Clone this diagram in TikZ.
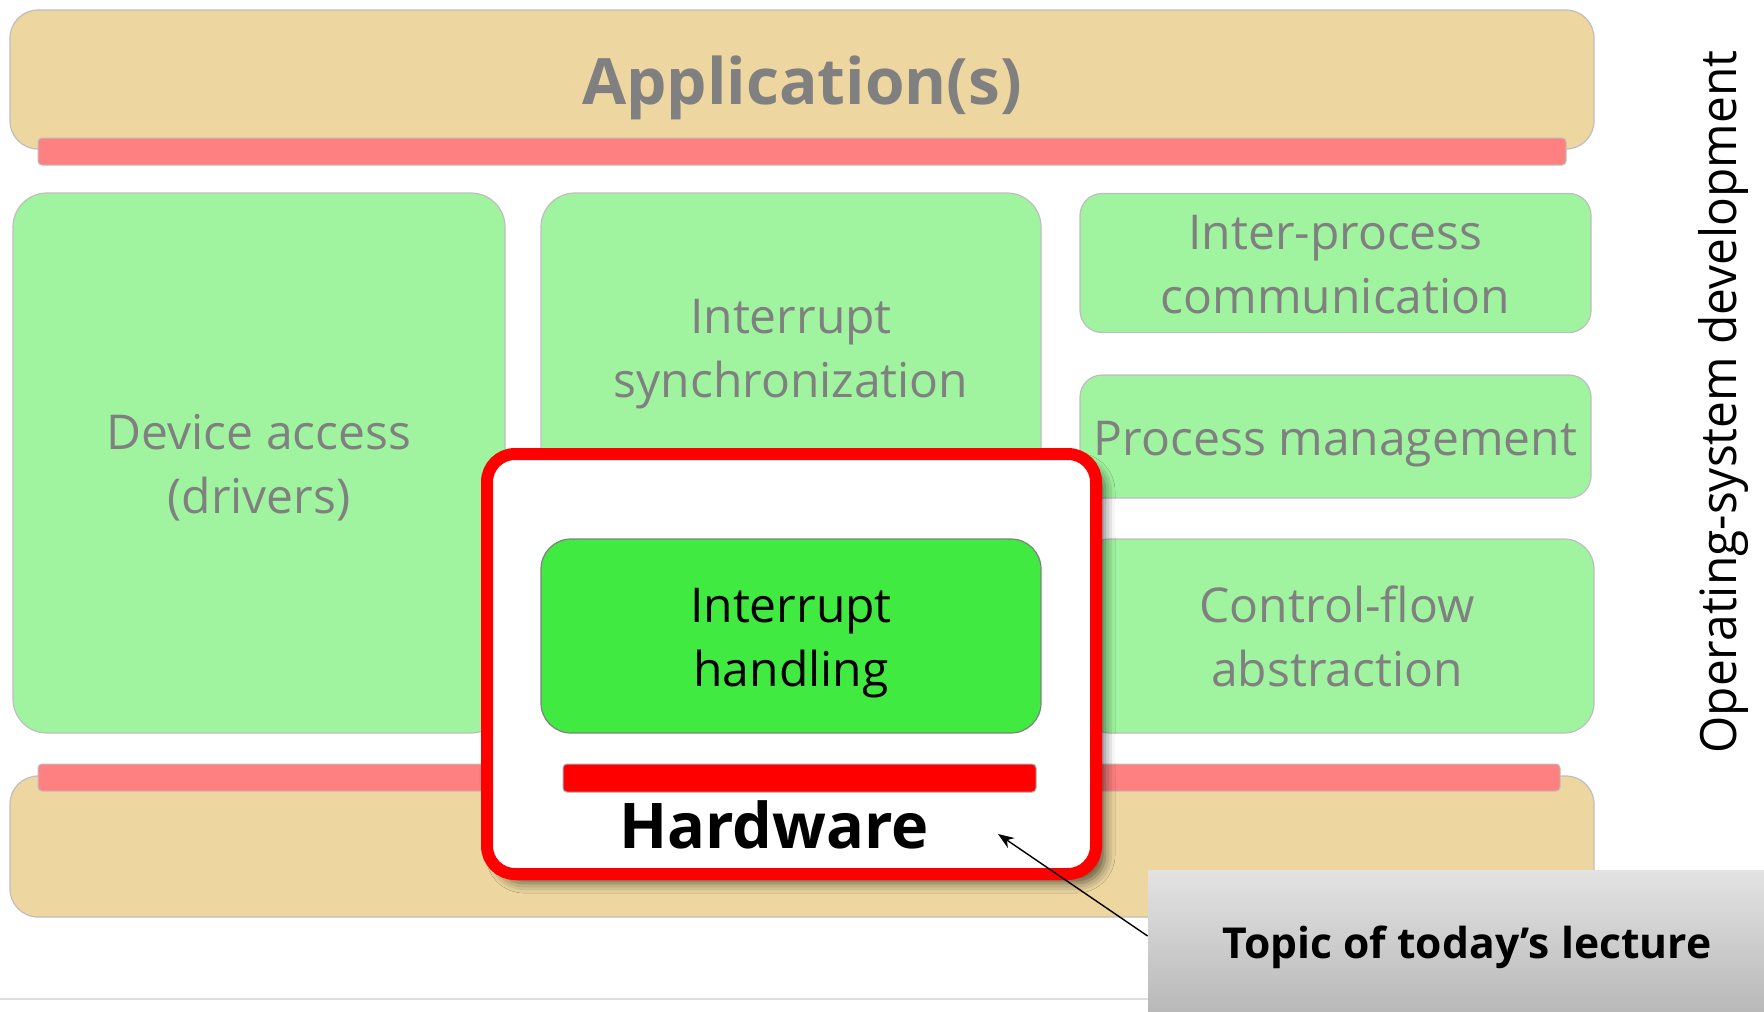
\documentclass[tikz,border=0pt]{standalone}
\usepackage{fontspec}
\setmainfont{Open Sans}
\usetikzlibrary{shadows.blur,arrows.meta}
\definecolor{tan}{RGB}{237,214,160}
\definecolor{barpink}{RGB}{255,128,128}
\definecolor{lightgreen}{RGB}{160,244,160}
\definecolor{brightgreen}{RGB}{64,234,64}
\definecolor{textgray}{RGB}{128,128,128}
\definecolor{bordergray}{RGB}{190,190,190}
\definecolor{hlred}{RGB}{255,0,0}
\tikzset{
  layer/.style={draw=bordergray, line width=0.6pt, fill=tan, rounded corners=14pt, inner sep=0pt},
  bar/.style={draw=bordergray, line width=0.5pt, fill=barpink, rounded corners=2pt, inner sep=0pt},
  comp/.style={draw=bordergray, line width=0.6pt, fill=lightgreen, inner sep=0pt},
  comptext/.style={text=textgray, align=center, inner sep=0pt, font=\fontsize{24}{32}\selectfont},
  topic/.style={draw=none, top color=gray!22, bottom color=gray!55, inner sep=0pt},
}
\begin{document}
\begin{tikzpicture}[x=0.5pt,y=-0.5pt]
\useasboundingbox (0,0) rectangle (1764,1011);
% baseline rule
\coordinate (rl) at (0,999);
\coordinate (rr) at (1150,999);
\draw[gray!25, line width=1pt] (rl) -- (rr);
% application layer
\node[layer, minimum width=792pt, minimum height=69.5pt] (app) at (802,79.5) {};
\node[text=textgray, font=\fontsize{32}{38}\selectfont\bfseries, inner sep=0pt] (apptext) at (802,87.5) {Application(s)};
\node[bar, minimum width=764pt, minimum height=13.5pt] (topbar) at (802,151.5) {};
% components
\node[comp, rounded corners=17pt, minimum width=246pt, minimum height=270pt] (dev) at (259,463) {};
\node[comptext] (devtext) at (259,467.5) {Device access\\(drivers)};
\node[comp, rounded corners=17pt, minimum width=250pt, minimum height=154.5pt] (sync) at (791,347.5) {};
\node[comptext] (synctext) at (791,354) {Interrupt\\synchronization};
\node[comp, rounded corners=11pt, minimum width=255.5pt, minimum height=69.5pt] (ipc) at (1335.5,263) {};
\node[comptext] (ipctext) at (1335.5,265) {Inter-process\\communication};
\node[comp, rounded corners=11pt, minimum width=255.5pt, minimum height=61.5pt] (pm) at (1335.5,436.5) {};
\node[comptext] (pmtext) at (1335.5,444) {Process management};
\node[comp, rounded corners=15pt, minimum width=257pt, minimum height=97pt] (cfa) at (1337,636) {};
\node[comptext] (cfatext) at (1337,636) {Control-flow\\abstraction};
% hardware layer
\node[layer, minimum width=792pt, minimum height=70.5pt] (hw) at (802,846.5) {};
\node[bar, minimum width=761pt, minimum height=13.5pt] (botbar) at (799,777.5) {};
% highlight
\node[draw=hlred, line width=6pt, fill=white, rounded corners=14pt, minimum width=304.5pt,
  minimum height=210pt, inner sep=0pt,
  blur shadow={shadow xshift=4.5pt, shadow yshift=-4.5pt, shadow blur radius=5pt, shadow opacity=60}] (hl) at (791.5,664) {};
\node[comp, fill=brightgreen, draw=gray, rounded corners=15pt, minimum width=250pt, minimum height=97pt] (ih) at (791,636) {};
\node[comptext, text=black] (ihtext) at (791,643) {Interrupt\\handling};
\node[draw=gray!70, line width=0.5pt, fill=hlred, rounded corners=2pt, minimum width=236.5pt, minimum height=14pt, inner sep=0pt] (redbar) at (799.5,778) {};
\node[font=\fontsize{31.5}{36}\selectfont\bfseries, inner sep=0pt] (hwtext) at (774,825) {Hardware};
% side label
\node[rotate=90, font=\fontsize{25}{30}\selectfont, inner sep=0pt] (osdev) at (1723,402) {\scalebox{0.957}[1]{Operating-system development}};
% topic callout
\node[topic, minimum width=308pt, minimum height=70.5pt] (topic) at (1456,940.5) {};
\node[font=\fontsize{21.3}{26}\selectfont\bfseries, inner sep=0pt] (topictext) at (1467,947) {Topic of today’s lecture};
\coordinate (tip) at (998,834);
\draw[line width=0.7pt, -{Stealth[length=8pt,width=6pt]}] (topic.west |- 0,936) -- (tip);
\end{tikzpicture}
\end{document}
